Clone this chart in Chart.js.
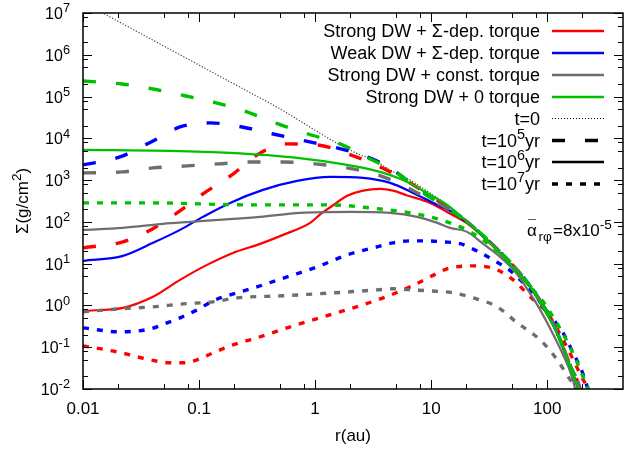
<!DOCTYPE html>
<html>
<head>
<meta charset="utf-8">
<script src="https://cdn.jsdelivr.net/npm/chart.js@4.4.1/dist/chart.umd.min.js"></script>
<style>
  html, body { margin: 0; padding: 0; background: #fff; }
  #quadro { position: relative; width: 624px; height: 452px; }
</style>
</head>
<body>
<div id="quadro"><canvas id="grafico" width="624" height="452"></canvas></div>
<script>
/* ============================================================
   Perfis de densidade superficial Σ(r) — vento de disco (DW)
   ============================================================ */

// Condição inicial t=0
const rT0   = [0.01, 0.323, 0.435, 2.45, 2.98, 4.43, 6.59, 9.8, 14.6, 20.4, 39.3, 71.3, 113, 161, 185, 195];
const sigT0 = [1.8e7, 9.8e4, 6.3e4, 4000, 3400, 1750, 1000, 490, 230, 105, 19, 2.9, 0.35, 0.03, 0.01, 0.004];

// Strong DW + Σ-dep. torque (vermelho)
const rVerm5   = [0.01, 0.0221, 0.0357, 0.0646, 0.108, 0.192, 0.316, 0.574, 1.06, 1.92, 3.63, 6.59, 9.8, 13.7, 20.4, 39.3, 71.3, 113, 161, 192, 205];
const sigVerm5 = [23.9, 33.3, 57.7, 164, 468, 1330, 4010, 7350, 6950, 4240, 2070, 857, 419, 229, 100, 19, 2.9, 0.36, 0.032, 0.0101, 0.004];
const rVerm6   = [0.01, 0.0221, 0.0401, 0.0686, 0.117, 0.196, 0.336, 0.53, 0.906, 1.1, 1.43, 1.89, 2.59, 3.63, 4.7, 6.21, 9.8, 13.7, 20.4, 28.1, 39.3, 53, 71.3, 92.4, 113, 137, 161, 185, 200];
const sigVerm6 = [0.743, 0.877, 1.61, 4.1, 9.36, 18.1, 29.8, 48.9, 94.6, 150, 250, 420, 560, 615, 560, 430, 285, 173, 92, 44, 17.5, 7.0, 2.75, 0.87, 0.33, 0.097, 0.029, 0.0101, 0.004];
const rVerm7   = [0.01, 0.0196, 0.0379, 0.0562, 0.0728, 0.0962, 0.132, 0.196, 0.316, 0.574, 1.1, 2.0, 3.86, 6.59, 9.8, 14.6, 24.9, 37.1, 50.9, 71.3, 100, 137, 204, 221, 235];
const sigVerm7 = [0.108, 0.0776, 0.05, 0.0424, 0.0424, 0.05, 0.0734, 0.114, 0.168, 0.291, 0.505, 0.83, 1.52, 2.79, 4.83, 7.94, 8.85, 7.11, 4.1, 1.61, 0.665, 0.15, 0.0166, 0.0107, 0.004];

// Weak DW + Σ-dep. torque (azul)
const rAzul5   = [0.01, 0.0208, 0.0401, 0.0686, 0.1245, 0.235, 0.435, 0.82, 1.55, 2.81, 4.43, 6.59, 9.8, 13.7, 20.4, 39.3, 71.3, 113, 161, 192, 205];
const sigAzul5 = [2310, 3590, 8670, 1.87e4, 2.34e4, 1.87e4, 1.27e4, 8670, 5890, 3590, 1960, 857, 419, 229, 100, 19, 2.9, 0.36, 0.032, 0.0101, 0.004];
const rAzul6   = [0.01, 0.0221, 0.0401, 0.0686, 0.108, 0.185, 0.356, 0.7, 1.35, 2.59, 4.43, 7.0, 11.3, 14.6, 20.4, 28.1, 39.3, 53, 71.3, 92.4, 113, 137, 161, 185, 200];
const sigAzul6 = [11.7, 15.4, 31.5, 64.4, 132, 285, 583, 957, 1190, 1130, 857, 494, 255, 183, 97, 45, 18, 7.1, 2.8, 0.88, 0.33, 0.097, 0.029, 0.0101, 0.004];
const rAzul7   = [0.01, 0.0208, 0.0379, 0.053, 0.0686, 0.0962, 0.132, 0.185, 0.316, 0.574, 1.04, 1.89, 3.42, 4.7, 6.59, 9.24, 12.7, 17.8, 24.9, 34.2, 48, 62.1, 75.7, 87, 113, 137, 158, 221, 235];
const sigAzul7 = [0.291, 0.233, 0.275, 0.384, 0.505, 0.785, 1.29, 1.79, 2.79, 4.83, 8.38, 16.2, 25.2, 31.5, 35.1, 35.1, 33.3, 30, 20, 12.3, 6.8, 3.5, 2.0, 1.2, 0.46, 0.22, 0.102, 0.0113, 0.005];

// Strong DW + const. torque (cinza)
const rCinza5   = [0.01, 0.0217, 0.0401, 0.0788, 0.146, 0.275, 0.53, 1.0, 1.89, 3.49, 6.34, 9.8, 13.7, 20.4, 39.3, 71.3, 113, 161, 192, 205];
const sigCinza5 = [1490, 1570, 1960, 2190, 2440, 2720, 2720, 2440, 1960, 1330, 650, 336, 216, 100, 19, 2.9, 0.36, 0.032, 0.0101, 0.004];
const rCinza6   = [0.01, 0.0221, 0.049, 0.0836, 0.336, 0.743, 2.0, 4.43, 7.58, 11.3, 14.6, 20.4, 28.1, 39.3, 53, 62.1, 87, 113, 137, 158, 174, 182];
const sigCinza6 = [64.4, 71.8, 89.6, 100, 132, 164, 173, 164, 132, 94.6, 71.8, 57.7, 29.8, 14.5, 6.36, 3.47, 0.785, 0.198, 0.0658, 0.0258, 0.0101, 0.004];
const rCinza7   = [0.01, 0.0208, 0.0401, 0.0728, 0.132, 0.213, 0.53, 1.04, 2.0, 3.42, 4.7, 6.59, 9.8, 15.5, 23, 37.1, 55.1, 87, 122, 158, 181, 190];
const sigCinza7 = [0.703, 0.83, 0.926, 1.09, 1.22, 1.52, 1.7, 1.9, 2.12, 2.36, 2.5, 2.36, 2.23, 2.0, 1.52, 0.926, 0.384, 0.15, 0.05, 0.0166, 0.0107, 0.0075];

// Strong DW + 0 torque (verde)
const rVerde5   = [0.01, 0.0217, 0.0401, 0.0772, 0.143, 0.259, 0.48, 0.871, 1.64, 2.86, 5.09, 8.53, 13.7, 20.4, 39.3, 71.3, 113, 161, 192, 205];
const sigVerde5 = [2.36e5, 2.0e5, 1.52e5, 1.03e5, 7.0e4, 4.28e4, 2.21e4, 1.27e4, 7350, 3400, 1490, 494, 216, 100, 19, 2.9, 0.36, 0.032, 0.0101, 0.004];
const rVerde6   = [0.01, 0.0562, 0.185, 0.7, 1.89, 3.63, 6.21, 9.8, 13.7, 20.4, 28.1, 39.3, 53, 71.3, 92.4, 113, 137, 161, 185, 200];
const sigVerde6 = [5280, 5000, 4470, 3400, 2310, 1570, 906, 442, 255, 100, 46, 18, 7.1, 2.8, 0.88, 0.33, 0.097, 0.029, 0.0101, 0.004];
const rVerde7   = [0.01, 0.0379, 0.275, 1.35, 2.98, 6.59, 12, 21.7, 45.2, 58.5, 75.7, 92.4, 117, 143, 174, 204, 226, 240];
const sigVerde7 = [285, 285, 255, 255, 216, 164, 112, 57.7, 12.3, 5.3, 2.36, 1.22, 0.44, 0.168, 0.0557, 0.0196, 0.0101, 0.004];

// Rótulos
const MODELOS = ["Strong DW + Σ-dep. torque", "Weak DW + Σ-dep. torque", "Strong DW + const. torque", "Strong DW + 0 torque"];
const TEMPOS = [["t=0"], ["t=10", "5", "yr"], ["t=10", "6", "yr"], ["t=10", "7", "yr"]];
const TICKS_X = [0.01, 0.1, 1, 10, 100];
const ROTULOS_X = ["0.01", "0.1", "1", "10", "100"];
const EXPOENTES_Y = [-2, -1, 0, 1, 2, 3, 4, 5, 6, 7];

const CORES = { verm: "#ff0000", azul: "#0000ff", cinza: "#6e6e6e", verde: "#00c000", t0: "#1e5a1e" };
const FONTE = "'Liberation Sans', Arial, sans-serif";

// Estilos de linha por instante
const ESTILO = {
  t0: { dash: [1.2, 1.8], width: 1.2 },
  t5: { dash: [13, 20], width: 3.4 },
  t6: { dash: [], width: 2.2 },
  t7: { dash: [6, 8], width: 3.4 },
};

const serie = (rs, sig) => rs.map((r, i) => ({ x: r, y: sig[i] }));

function ds(rs, sig, cor, est, ordem) {
  return {
    data: serie(rs, sig),
    borderColor: cor,
    borderWidth: est.width,
    borderDash: est.dash,
    borderCapStyle: "butt",
    pointRadius: 0,
    fill: false,
    cubicInterpolationMode: "monotone",
    order: ordem,
  };
}

// Texto com sobrescrito/subscrito estilo gnuplot
function medir(ctx, partes, tam) {
  let w = 0;
  partes.forEach((p) => {
    const t = p.k === "n" ? tam : tam * 0.8;
    ctx.font = `${t}px ${FONTE}`;
    w += ctx.measureText(p.t).width;
  });
  return w;
}
function escrever(ctx, partes, x, y, tam, alinhar) {
  let cx = alinhar === "right" ? x - medir(ctx, partes, tam)
         : alinhar === "center" ? x - medir(ctx, partes, tam) / 2 : x;
  ctx.textAlign = "left";
  ctx.textBaseline = "alphabetic";
  partes.forEach((p) => {
    const t = p.k === "n" ? tam : tam * 0.8;
    const dy = p.k === "sup" ? -tam * 0.42 : p.k === "sub" ? tam * 0.3 : 0;
    ctx.font = `${t}px ${FONTE}`;
    ctx.fillText(p.t, cx, y + dy);
    cx += ctx.measureText(p.t).width;
  });
}

const molduraPlugin = {
  id: "moldura",
  afterDatasetsDraw(chart) {
    const { ctx, chartArea: a, scales: { x, y } } = chart;
    ctx.save();
    ctx.strokeStyle = "#000";
    ctx.lineWidth = 1;
    ctx.beginPath();
    // marcas do eixo x (dentro, em baixo e em cima)
    for (let e = -2; e <= 2; e++) {
      [1, 2, 5, 8].forEach((m) => {
        const v = m * Math.pow(10, e);
        if (v > x.max) return;
        const px = Math.round(x.getPixelForValue(v)) + 0.5;
        const len = m === 1 ? 9 : 5;
        ctx.moveTo(px, a.bottom); ctx.lineTo(px, a.bottom - len);
        ctx.moveTo(px, a.top); ctx.lineTo(px, a.top + len);
      });
    }
    // marcas do eixo y (esquerda e direita)
    for (let e = -2; e <= 7; e++) {
      [1, 2, 5, 8].forEach((m) => {
        const v = m * Math.pow(10, e);
        if (v > y.max) return;
        const py = Math.round(y.getPixelForValue(v)) + 0.5;
        const len = m === 1 ? 9 : 5;
        ctx.moveTo(a.left, py); ctx.lineTo(a.left + len, py);
        ctx.moveTo(a.right, py); ctx.lineTo(a.right - len, py);
      });
    }
    ctx.stroke();
    ctx.lineWidth = 1.5;
    ctx.strokeRect(a.left, a.top, a.right - a.left, a.bottom - a.top);
    ctx.restore();
  },
  afterDraw(chart) {
    const { ctx, chartArea: a, scales: { x, y } } = chart;
    ctx.save();
    ctx.fillStyle = "#000";

    // rótulos do eixo x
    TICKS_X.forEach((v, i) => {
      escrever(ctx, [{ t: ROTULOS_X[i], k: "n" }], x.getPixelForValue(v), 414, 17, "center");
    });
    // rótulos do eixo y (10^n)
    EXPOENTES_Y.forEach((e) => {
      const py = y.getPixelForValue(Math.pow(10, e));
      escrever(ctx, [{ t: "10", k: "n" }, { t: String(e), k: "sup" }], 70, py + 6, 16, "right");
    });
    // títulos
    escrever(ctx, [{ t: "r(au)", k: "n" }], (a.left + a.right) / 2, 441, 17, "center");
    ctx.save();
    ctx.translate(28, (a.top + a.bottom) / 2);
    ctx.rotate(-Math.PI / 2);
    escrever(ctx, [{ t: "Σ(g/cm", k: "n" }, { t: "2", k: "sup" }, { t: ")", k: "n" }], 0, 0, 17, "center");
    ctx.restore();

    // legenda
    const linhas = [31, 53, 75, 97, 118.5, 140.5, 162, 184];
    const cores = [CORES.verm, CORES.azul, CORES.cinza, CORES.verde];
    const x0 = 552, x1 = 604, xt = 540;
    MODELOS.forEach((m, i) => {
      escrever(ctx, [{ t: m, k: "n" }], xt, linhas[i] + 6, 18, "right");
      ctx.strokeStyle = cores[i];
      ctx.lineWidth = 2.5;
      ctx.setLineDash([]);
      ctx.beginPath(); ctx.moveTo(x0, linhas[i]); ctx.lineTo(x1, linhas[i]); ctx.stroke();
    });
    const estilos = [{ dash: [1, 2], width: 1 }, ESTILO.t5, { dash: [], width: 2.5 }, ESTILO.t7];
    TEMPOS.forEach((tt, j) => {
      const yy = linhas[4 + j];
      const partes = tt.length === 1 ? [{ t: tt[0], k: "n" }]
        : [{ t: tt[0], k: "n" }, { t: tt[1], k: "sup" }, { t: tt[2], k: "n" }];
      ctx.fillStyle = "#000";
      escrever(ctx, partes, xt, yy + 6, 18, "right");
      ctx.strokeStyle = "#000";
      ctx.lineWidth = estilos[j].width;
      ctx.setLineDash(estilos[j].dash);
      ctx.beginPath(); ctx.moveTo(x0, yy); ctx.lineTo(x1, yy); ctx.stroke();
    });
    ctx.setLineDash([]);

    // anotação do parâmetro alfa
    escrever(ctx, [{ t: "α", k: "n" }], 527, 236, 17, "left");
    escrever(ctx, [{ t: "¯", k: "n" }], 532, 230, 14, "center");
    escrever(ctx, [{ t: "rφ", k: "sub" }], 538.5, 236, 17, "left");
    escrever(ctx, [{ t: "=8x10", k: "n" }, { t: "-5", k: "sup" }], 553, 236, 17, "left");
    ctx.restore();
  },
};

new Chart(document.getElementById("grafico"), {
  type: "line",
  data: {
    datasets: [
      ds(rT0, sigT0, CORES.t0, ESTILO.t0, 20),
      ds(rVerm5, sigVerm5, CORES.verm, ESTILO.t5, 12),
      ds(rVerm6, sigVerm6, CORES.verm, ESTILO.t6, 11),
      ds(rVerm7, sigVerm7, CORES.verm, ESTILO.t7, 13),
      ds(rAzul5, sigAzul5, CORES.azul, ESTILO.t5, 8),
      ds(rAzul6, sigAzul6, CORES.azul, ESTILO.t6, 7),
      ds(rAzul7, sigAzul7, CORES.azul, ESTILO.t7, 9),
      ds(rCinza5, sigCinza5, CORES.cinza, ESTILO.t5, 5),
      ds(rCinza6, sigCinza6, CORES.cinza, ESTILO.t6, 4),
      ds(rCinza7, sigCinza7, CORES.cinza, ESTILO.t7, 6),
      ds(rVerde5, sigVerde5, CORES.verde, ESTILO.t5, 2),
      ds(rVerde6, sigVerde6, CORES.verde, ESTILO.t6, 1),
      ds(rVerde7, sigVerde7, CORES.verde, ESTILO.t7, 3),
    ],
  },
  options: {
    responsive: false,
    animation: false,
    devicePixelRatio: 1,
    layout: { padding: { left: 83, right: 1, top: 13, bottom: 63 } },
    plugins: { legend: { display: false }, tooltip: { enabled: false } },
    scales: {
      x: { type: "logarithmic", min: 0.01, max: 450, display: false },
      y: { type: "logarithmic", min: 0.01, max: 1e7, display: false },
    },
  },
  plugins: [molduraPlugin],
});
</script>
</body>
</html>
